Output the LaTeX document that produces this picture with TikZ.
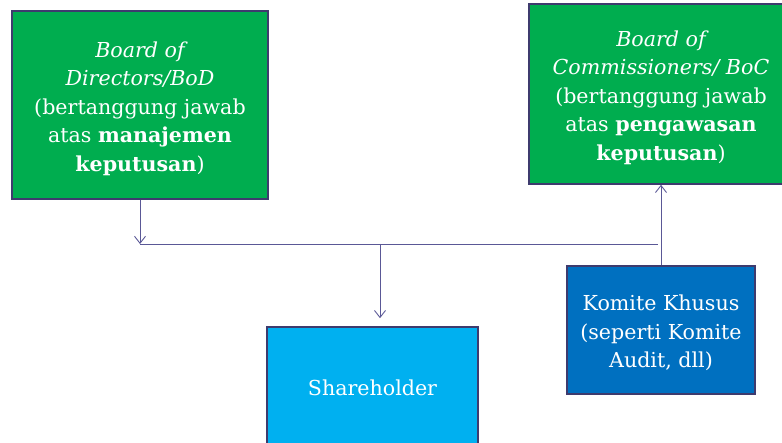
\documentclass[tikz,border=0pt]{standalone}
\usepackage{fontspec}
\setmainfont{DejaVu Serif}
\usetikzlibrary{arrows.meta}
\definecolor{boxgreen}{HTML}{00AD4F}
\definecolor{boxcyan}{HTML}{00B0F0}
\definecolor{boxblue}{HTML}{0070C0}
\definecolor{edge}{HTML}{3E3B6E}
\definecolor{wire}{HTML}{5A5896}
\newcommand{\topgap}[1]{\rule{0pt}{#1}}
\tikzset{
  boxstyle/.style={draw=edge, line width=1.6pt, text=white, align=center, inner sep=0pt,
    font=\fontsize{20.6}{28.5}\selectfont},
  wirestyle/.style={draw=wire, line width=0.9pt},
  arr/.style={wirestyle, -{Straight Barb[length=7pt,width=11pt,line width=0.9pt]}}
}
\begin{document}
\begin{tikzpicture}[x=1pt,y=-1pt]
\useasboundingbox (0,0) rectangle (782,443);
\node[boxstyle, fill=boxgreen, minimum width=256pt, minimum height=188pt] (bod) at (140,105)
  {\topgap{23pt}\itshape Board of\\ \itshape Directors/BoD\\(bertanggung jawab\\atas \textbf{manajemen}\\\textbf{keputusan})};
\node[boxstyle, fill=boxgreen, minimum width=264pt, minimum height=180pt] (boc) at (661,94)
  {\topgap{23pt}\itshape Board of\\ \itshape Commissioners/ BoC\\(bertanggung jawab\\atas \textbf{pengawasan}\\\textbf{keputusan})};
\node[boxstyle, fill=boxblue, minimum width=188pt, minimum height=128pt] (kom) at (661,330)
  {\topgap{22pt}Komite Khusus\\(seperti Komite\\Audit, dll)};
\node[boxstyle, fill=boxcyan, minimum width=211pt, minimum height=122pt] (sh) at (372.5,388)
  {Shareholder};
\coordinate (jl) at (140,244);
\coordinate (jm) at (380,244);
\coordinate (jr) at (658,244);
\draw[arr] (bod.south -| jl) -- (jl);
\draw[wirestyle] (jl) -- (jr);
\draw[arr, shorten >=8pt] (jm) -- (jm |- sh.north);
\draw[arr] (kom.north) -- (boc.south -| kom.north);
\end{tikzpicture}
\end{document}
